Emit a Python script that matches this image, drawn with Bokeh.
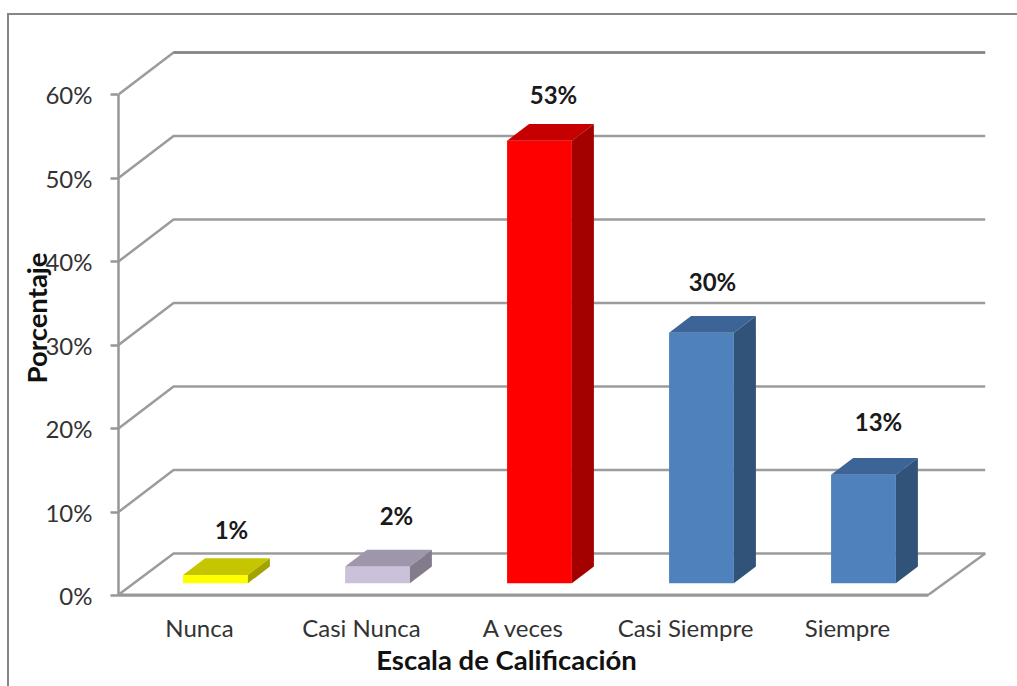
from bokeh.embed import file_html
from bokeh.resources import INLINE
from bokeh.plotting import figure
from bokeh.models import ColumnDataSource, FixedTicker, InlineStyleSheet, LinearAxis, Range1d
from bokeh.core.properties import value
import math

categories = ["Nunca", "Casi Nunca", "A veces", "Casi Siempre", "Siempre"]
percent = [1, 2, 53, 30, 13]
percent_labels = ["1%", "2%", "53%", "30%", "13%"]
label_nudge_x = [5, 8, 3, 0, 4]
label_nudge_y = [1, -4, 0, -5, -7]
front_colors = ["#FFFF00", "#CCC1DA", "#FF0000", "#4F81BD", "#4F81BD"]
top_colors = ["#C6C600", "#9E96AA", "#C60000", "#3D6496", "#3D6496"]
side_colors = ["#A3A300", "#827B8C", "#A30000", "#325379", "#325379"]
y_ticks = [0, 10, 20, 30, 40, 50, 60]

GRID = "#9C9C9C"
AXIS_GREY = "#979797"
FRAME_GREY = "#868686"
FONT = "Lato"

PX_PER_CATEGORY = 162
PX_PER_PERCENT = 8.35

# Oblique projection: a point at depth d (0 front .. 1 back) shifts by these data offsets.
DEPTH_X = 0.34
DEPTH_Y = 5.03
BAR_WIDTH = 0.40
BAR_FRONT = 0.29
BAR_DEPTH = 0.40

p = figure(
    width=1017, height=686,
    frame_width=899, frame_height=581,
    min_border_left=118, min_border_right=0, min_border_top=14, min_border_bottom=91,
    x_range=Range1d(0, 899 / PX_PER_CATEGORY), y_range=Range1d(0, 581 / PX_PER_PERCENT),
    output_backend="svg", toolbar_location=None,
    background_fill_color="white", border_fill_color="white",
    outline_line_color=None,
)
p.grid.visible = False

# Chart border along the top and left of the page.
p.stylesheets = [InlineStyleSheet(css="""
:host { position: relative; }
:host::before {
  content: ""; position: absolute; left: 7px; top: 13px; right: 0; bottom: 0;
  border-top: 2.5px solid #868686; border-left: 2.5px solid #868686;
  pointer-events: none; z-index: 5;
}
""")]

n = len(categories)
back_right = n + DEPTH_X + 0.01

# Walls: side wall segment plus the back wall line for each tick above the floor.
xs_wall, ys_wall = [], []
for t in y_ticks[1:]:
    xs_wall.append([0, DEPTH_X, back_right])
    ys_wall.append([t, t + DEPTH_Y, t + DEPTH_Y])
p.multi_line(xs_wall, ys_wall, line_color=GRID, line_width=2.5)
p.line([DEPTH_X, back_right], [60 + DEPTH_Y] * 2, line_color=FRAME_GREY, line_width=2.5)

# Floor outline.
p.line([0, DEPTH_X, back_right, n, 0],
       [0.1, DEPTH_Y, DEPTH_Y, 0.1, 0.1], line_color=GRID, line_width=2.5)

# Bars: front, top and side faces.
for i, v in enumerate(percent):
    x0 = i + 0.5 - BAR_WIDTH / 2 + BAR_FRONT * DEPTH_X
    x1 = x0 + BAR_WIDTH
    y0 = BAR_FRONT * DEPTH_Y
    y1 = y0 + v
    dx, dy = BAR_DEPTH * DEPTH_X, BAR_DEPTH * DEPTH_Y
    p.patch([x0, x1, x1, x0], [y0, y0, y1, y1], fill_color=front_colors[i], line_color=None)
    p.patch([x0, x1, x1 + dx, x0 + dx], [y1, y1, y1 + dy, y1 + dy], fill_color=top_colors[i], line_color=None)
    p.patch([x1, x1 + dx, x1 + dx, x1], [y0, y0 + dy, y1 + dy, y1], fill_color=side_colors[i], line_color=None)

# Value labels above each bar.
labels = ColumnDataSource(dict(
    x=[i + 0.5 + (BAR_FRONT + BAR_DEPTH / 2) * DEPTH_X for i in range(n)],
    y=[v + BAR_FRONT * DEPTH_Y + 5.6 for v in percent],
    text=percent_labels,
    nudge_x=label_nudge_x,
    nudge_y=label_nudge_y,
))
p.text("x", "y", text="text", x_offset="nudge_x", y_offset="nudge_y", source=labels,
       text_align="center", text_baseline="middle",
       text_font=value(FONT), text_font_style="bold", text_font_size="24px", text_color="#1a1a1a")

# Value axis.
p.yaxis.ticker = FixedTicker(ticks=y_ticks)
p.yaxis.bounds = (0, 60)
p.yaxis.major_label_overrides = {t: f"{t}%" for t in y_ticks}
p.yaxis.major_tick_out = 8
p.yaxis.major_tick_in = 0
p.yaxis.minor_tick_line_color = None
p.yaxis.axis_line_color = AXIS_GREY
p.yaxis.axis_line_width = 2.5
p.yaxis.major_tick_line_color = AXIS_GREY
p.yaxis.major_tick_line_width = 2.5
p.yaxis.major_label_standoff = 18
p.yaxis.major_label_text_font = FONT
p.yaxis.major_label_text_font_size = "24px"
p.yaxis.major_label_text_color = "#333333"

# Category axis.
p.xaxis.ticker = FixedTicker(ticks=[i + 0.5 for i in range(n)])
p.xaxis.major_label_overrides = {i + 0.5: c for i, c in enumerate(categories)}
p.xaxis.bounds = (0, n)
p.xaxis.major_tick_line_color = None
p.xaxis.minor_tick_line_color = None
p.xaxis.axis_line_color = AXIS_GREY
p.xaxis.axis_line_width = 2.5
p.xaxis.major_label_standoff = 11
p.xaxis.major_label_text_font = FONT
p.xaxis.major_label_text_font_size = "24px"
p.xaxis.major_label_text_color = "#333333"


def title_axis(tick, text, side, standoff, orientation):
    """An axis carrying one bold label, for a title that sits off-centre from the frame."""
    axis = LinearAxis(
        ticker=FixedTicker(ticks=[tick]),
        major_label_overrides={tick: text},
        major_label_standoff=standoff,
        major_label_orientation=orientation,
        major_label_text_font=FONT,
        major_label_text_font_style="bold",
        major_label_text_font_size="27.5px",
        major_label_text_color="#111111",
        axis_line_color=None,
        major_tick_line_color=None,
        minor_tick_line_color=None,
    )
    p.add_layout(axis, side)


title_axis((506 - 118) / PX_PER_CATEGORY, "Escala de Calificación", "below", -8, "horizontal")
title_axis((595 - 252) / PX_PER_PERCENT, "Porcentaje", "left", 0, math.pi / 2)

open("out.html", "w").write(file_html(p, INLINE))
